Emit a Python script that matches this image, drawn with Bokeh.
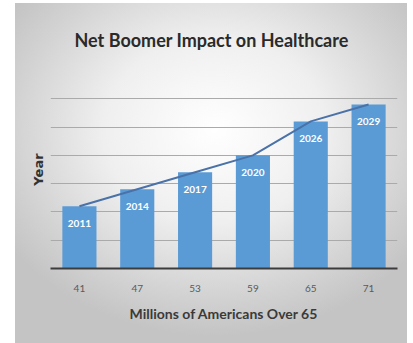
from bokeh.plotting import figure
from bokeh.models import ColumnDataSource, FactorRange, Range1d
from bokeh.core.properties import value
from bokeh.embed import file_html
from bokeh.resources import INLINE

# Data
categories = ["41", "47", "53", "59", "65", "71"]          # Millions of Americans over 65
years = [2011, 2014, 2017, 2020, 2026, 2029]
year_labels = [str(y) for y in years]
bar_values = [y - 2000 for y in years]                      # bar height encodes year (offset 2000)
y_ticks = [0, 5, 10, 15, 20, 25, 30, 35]

src = ColumnDataSource(dict(cat=categories, val=bar_values, lab=year_labels))

bg = ("linear-gradient(to right, #ffffff 15px, rgba(255,255,255,0) 15px, rgba(255,255,255,0) 407px, #ffffff 407px), "
      "linear-gradient(to bottom, #ffffff 3px, rgba(255,255,255,0) 3px), "
      "radial-gradient(ellipse 60% 60% at 52% 38%, #ffffff 0%, #efefef 45%, #d3d3d3 80%, #c4c4c4 100%)")

p = figure(width=413, height=343, x_range=FactorRange(*categories), y_range=Range1d(0, 35),
           output_backend="svg", toolbar_location=None,
           min_border_left=50, min_border_right=16, min_border_top=70, min_border_bottom=75,
           title="Net Boomer Impact on Healthcare",
           styles={"background": bg})
p.border_fill_color = None
p.background_fill_color = None
p.outline_line_color = None

p.title.align = "left"
p.title.text_font = "Lato"
p.title.text_font_size = "18px"
p.title.text_font_style = "bold"
p.title.text_color = "#2a2a2a"
p.title.offset = 24
p.title.standoff = 40

p.vbar(x="cat", top="val", width=0.59, source=src, color="#5b9bd5", line_color=None)
p.line(x="cat", y="val", source=src, line_color="#4a72a8", line_width=2)
p.text(x="cat", y="val", text="lab", source=src, text_color="white", text_font=value("Lato"),
       text_font_size="10px", text_font_style="bold", text_align="center",
       text_baseline="middle", y_offset=17)

p.xgrid.grid_line_color = None
p.ygrid.grid_line_color = "#aaaaaa"
p.ygrid.grid_line_width = 1
p.yaxis.ticker = y_ticks

p.xaxis.axis_line_color = "#3c3c3c"
p.xaxis.axis_line_width = 2
p.xaxis.major_tick_line_color = None
p.xaxis.minor_tick_line_color = None
p.xaxis.major_label_text_font = "Lato"
p.xaxis.major_label_text_font_size = "10px"
p.xaxis.major_label_text_color = "#5a5a5a"
p.xaxis.major_label_standoff = 10
p.xaxis.axis_label = "Millions of Americans Over 65"
p.xaxis.axis_label_text_font = "Lato"
p.xaxis.axis_label_text_font_size = "14px"
p.xaxis.axis_label_text_font_style = "bold"
p.xaxis.axis_label_text_color = "#3a3a3a"
p.xaxis.axis_label_standoff = 10

p.yaxis.axis_line_color = None
p.yaxis.major_tick_line_color = None
p.yaxis.minor_tick_line_color = None
p.yaxis.major_label_overrides = {t: "" for t in y_ticks}
p.yaxis.major_label_standoff = 0
p.yaxis.axis_label = "Year"
p.yaxis.axis_label_text_font = "DejaVu Sans"
p.yaxis.axis_label_text_font_size = "13px"
p.yaxis.axis_label_text_font_style = "bold"
p.yaxis.axis_label_text_color = "#333333"
p.yaxis.axis_label_standoff = -1

open("out.html", "w").write(file_html(p, INLINE))
